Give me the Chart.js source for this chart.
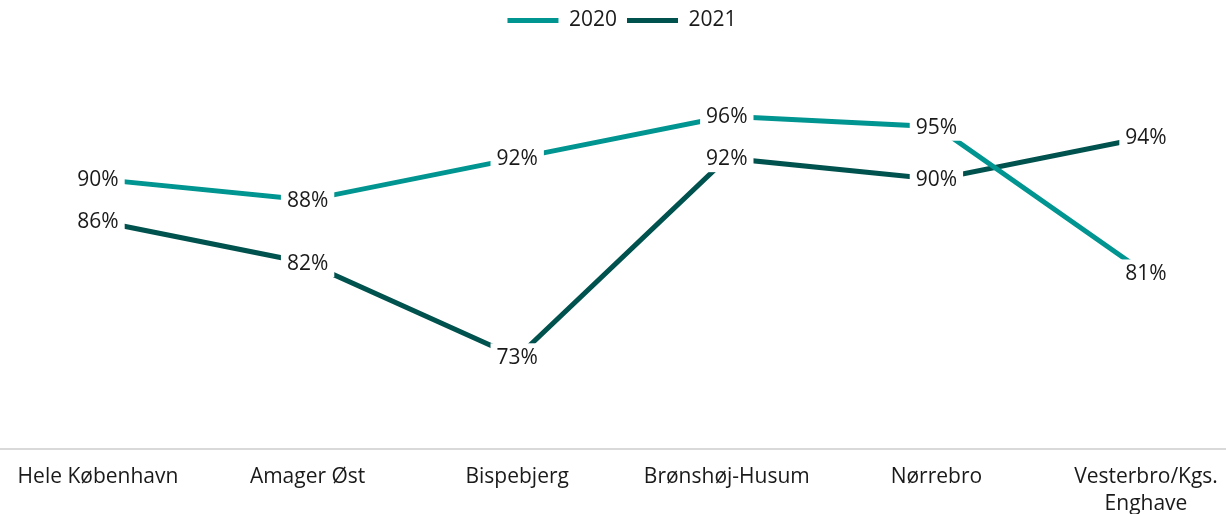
<!DOCTYPE html>
<html lang="da">
<head>
    <meta charset="UTF-8">
    <title>Andel 2020-2021</title>
    <script src="https://cdn.jsdelivr.net/npm/chart.js"></script>
    <style>
        html, body { margin: 0; padding: 0; background: #fff; }
        .wrap { width: 1226px; height: 514px; }
    </style>
</head>
<body>
    <div class="wrap">
        <canvas id="chart"></canvas>
    </div>
    <script>
        const bydele = ['Hele København', 'Amager Øst', 'Bispebjerg', 'Brønshøj-Husum', 'Nørrebro', ['Vesterbro/Kgs.', 'Enghave']];
        const vaerdier2020 = [90, 88, 92, 96, 95, 81];
        const vaerdier2021 = [86, 82, 73, 92, 90, 94];

        const FONT = '"Open Sans", "Noto Sans", sans-serif';
        const TEKST = '#1a1a1a';

        // procent-etiketter med hvid baggrund, centreret på punkterne
        const etiketter = {
            id: 'etiketter',
            afterDatasetsDraw(chart) {
                const ctx = chart.ctx;
                ctx.save();
                ctx.font = '21px ' + FONT;
                ctx.textAlign = 'center';
                ctx.textBaseline = 'middle';
                chart.data.datasets.forEach((ds, i) => {
                    const meta = chart.getDatasetMeta(i);
                    meta.data.forEach((pt, j) => {
                        const txt = ds.data[j] + '%';
                        const w = ctx.measureText(txt).width;
                        ctx.fillStyle = '#fff';
                        ctx.fillRect(pt.x - w / 2 - 6, pt.y - 14, w + 12, 28);
                        ctx.fillStyle = TEKST;
                        ctx.fillText(txt, pt.x, pt.y + 1);
                    });
                });
                ctx.restore();
            }
        };

        // vandret aksestreg over hele bredden
        const akselinje = {
            id: 'akselinje',
            beforeDatasetsDraw(chart) {
                const ctx = chart.ctx;
                const y = chart.chartArea.bottom;
                ctx.save();
                ctx.strokeStyle = '#d9d9d9';
                ctx.lineWidth = 2;
                ctx.beginPath();
                ctx.moveTo(0, y);
                ctx.lineTo(chart.width, y);
                ctx.stroke();
                ctx.restore();
            }
        };

        new Chart(document.getElementById('chart'), {
            type: 'line',
            data: {
                labels: bydele,
                datasets: [
                    {
                        label: '2020',
                        data: vaerdier2020,
                        borderColor: '#009590',
                        backgroundColor: '#009590',
                        borderWidth: 5,
                        borderCapStyle: 'round',
                        pointRadius: 0,
                        tension: 0
                    },
                    {
                        label: '2021',
                        data: vaerdier2021,
                        borderColor: '#00524e',
                        backgroundColor: '#00524e',
                        borderWidth: 5,
                        borderCapStyle: 'round',
                        pointRadius: 0,
                        tension: 0
                    }
                ]
            },
            options: {
                responsive: true,
                maintainAspectRatio: false,
                animation: false,
                layout: { padding: { left: 98, right: 80, top: 0, bottom: 0 } },
                scales: {
                    x: {
                        offset: false,
                        grid: { display: false, drawTicks: false },
                        border: { display: false },
                        ticks: {
                            color: TEKST,
                            font: { family: FONT, size: 21, lineHeight: 1.29 },
                            padding: 14,
                            maxRotation: 0,
                            autoSkip: false
                        },
                        afterFit(scale) {
                            scale.height = 65;
                            scale.paddingLeft = 0;
                            scale.paddingRight = 0;
                        }
                    },
                    y: {
                        display: false,
                        min: 64.25,
                        max: 103.18
                    }
                },
                plugins: {
                    legend: {
                        position: 'top',
                        labels: {
                            usePointStyle: true,
                            pointStyle: 'line',
                            pointStyleWidth: 51,
                            color: TEKST,
                            font: { family: FONT, size: 21 },
                            padding: 10
                        }
                    },
                    tooltip: { enabled: false }
                }
            },
            plugins: [akselinje, etiketter]
        });
    </script>
</body>
</html>
